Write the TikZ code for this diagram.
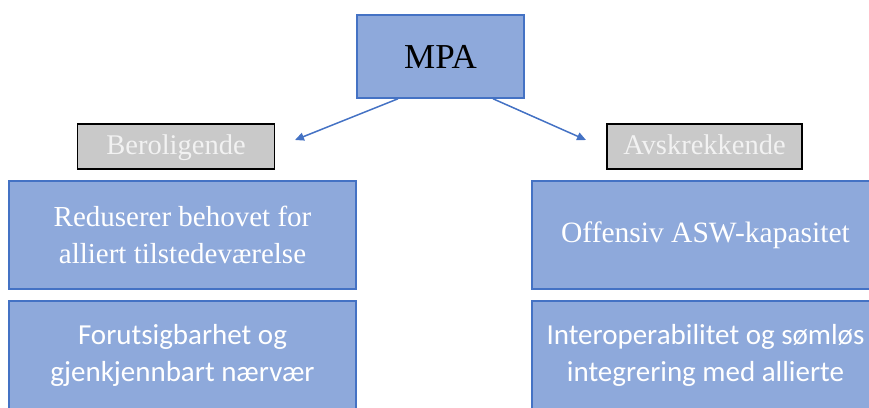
\documentclass[tikz,border=0pt]{standalone}
\usepackage{fontspec}
\setmainfont{Liberation Serif}
\newfontfamily\calfont{Carlito}
\usetikzlibrary{arrows.meta}
\definecolor{boxfill}{HTML}{8EA9DB}
\definecolor{boxline}{HTML}{4472C4}
\definecolor{grayfill}{HTML}{C9C9C9}
\definecolor{graytext}{HTML}{F2F2F2}
\tikzset{
  bluebox/.style={draw=boxline, fill=boxfill, line width=1.5pt, inner sep=0pt,
    minimum width=347pt, minimum height=108pt, align=center, text=white,
    font=\fontsize{29}{37}\selectfont},
  graybox/.style={draw=black, fill=grayfill, line width=1.5pt, inner sep=0pt,
    minimum height=45pt, align=center, text=graytext, text height=21pt, text depth=5pt,
    font=\fontsize{28.5}{34}\selectfont},
  toparrow/.style={draw=boxline, line width=1.5pt, -{Triangle[length=9pt,width=8pt]}}
}
\begin{document}
\begin{tikzpicture}[x=1pt,y=-1pt]
\useasboundingbox (0,0) rectangle (869,407);
\clip (0,0) rectangle (869,407);
\node[draw=boxline, fill=boxfill, line width=1.5pt, inner sep=0pt,
  minimum width=167pt, minimum height=83pt,
  font=\fontsize{35}{40}\selectfont] (mpa) at (440.5,56.5) {MPA};
\node[graybox, minimum width=197pt] (ber) at (176,146.5) {Beroligende};
\node[graybox, minimum width=195pt] (avs) at (704.5,146.5) {Avskrekkende};
\node[bluebox] (l1) at (182.5,235) {Reduserer behovet for\\alliert tilstedeværelse};
\node[bluebox, font=\calfont\fontsize{29}{37}\selectfont] (l2) at (182.5,355) {Forutsigbarhet og\\gjenkjennbart nærvær};
\node[bluebox, font=\fontsize{29.5}{37}\selectfont] (r1) at (705.5,235) {Offensiv ASW-kapasitet};
\node[bluebox, font=\calfont\fontsize{29}{37}\selectfont] (r2) at (705.5,355) {Interoperabilitet og sømløs\\integrering med allierte};
\coordinate (bertip) at (295,140);
\coordinate (avstip) at (586,140);
\draw[toparrow] ([xshift=-42.5pt]mpa.south) -- (bertip);
\draw[toparrow] ([xshift=52.5pt]mpa.south) -- (avstip);
\end{tikzpicture}
\end{document}
